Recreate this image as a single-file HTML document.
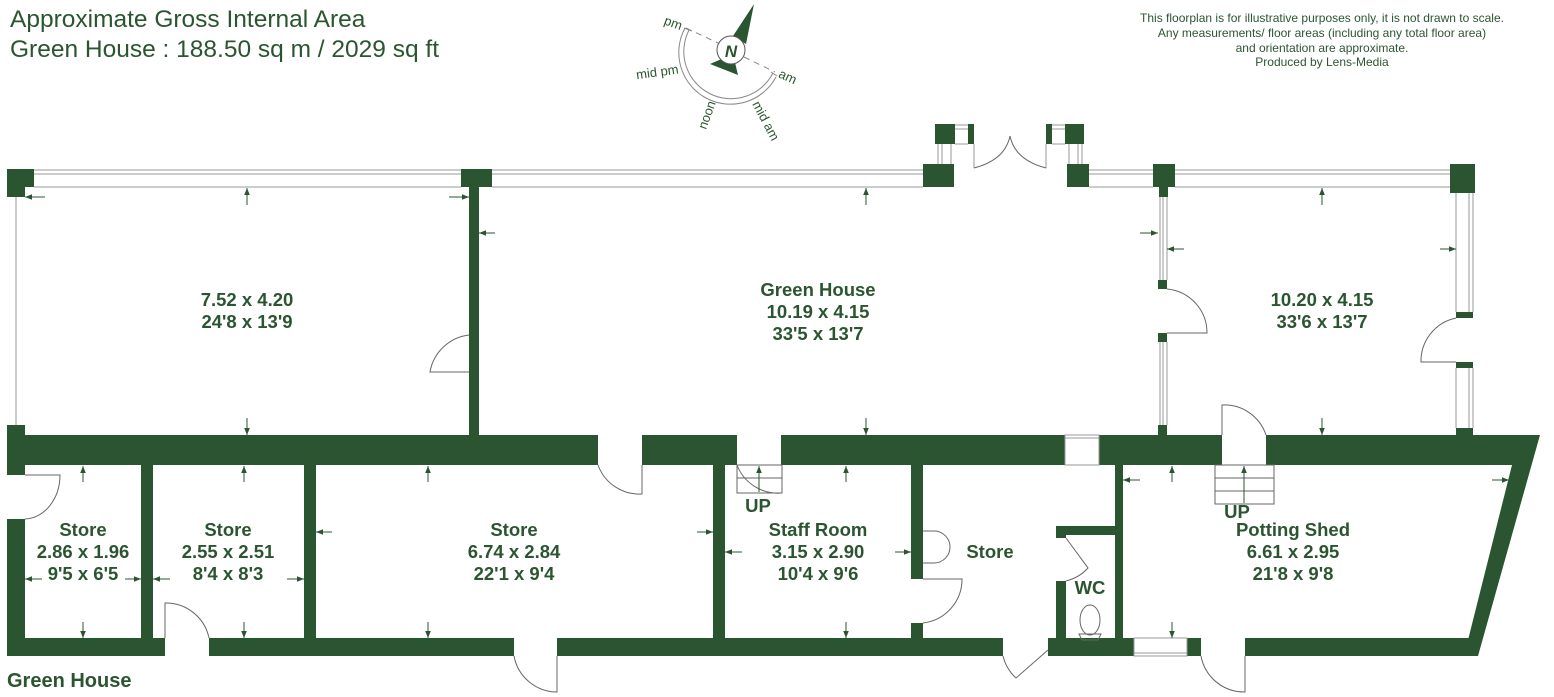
<!DOCTYPE html>
<html><head><meta charset="utf-8"><style>
html,body{margin:0;padding:0;background:#fff;}
svg{display:block;}
text{font-family:"Liberation Sans",Arial,sans-serif;fill:#2b5530;}
.b{font-weight:bold;font-size:18.5px;text-anchor:middle;}
</style></head><body>
<svg width="1554" height="697" viewBox="0 0 1554 697" xmlns="http://www.w3.org/2000/svg">
<defs>
<marker id="ah" viewBox="0 0 10 10" refX="10" refY="5" markerWidth="7" markerHeight="7" orient="auto-start-reverse"><path d="M0,1 L10,5 L0,9 z" fill="#2b5530"/></marker>
</defs>
<text x="10" y="27" font-size="24.5">Approximate Gross Internal Area</text>
<text x="10" y="57" font-size="24.5">Green House : 188.50 sq m / 2029 sq ft</text>
<g font-size="12" text-anchor="middle">
<text x="1322" y="22">This floorplan is for illustrative purposes only, it is not drawn to scale.</text>
<text x="1322" y="37">Any measurements/ floor areas (including any total floor area)</text>
<text x="1322" y="52">and orientation are approximate.</text>
<text x="1322" y="66">Produced by Lens-Media</text>
</g>
<!-- compass -->
<g stroke="#888" fill="none" stroke-width="1">
<path d="M689,30 A46,46 0 0 0 773,73"/>
<path d="M685,28 A51,51 0 0 0 776,77"/>
<line x1="684" y1="28" x2="692" y2="31"/><line x1="771" y1="72" x2="777" y2="76"/>
<line x1="686" y1="28" x2="718" y2="43" stroke-dasharray="6,5"/>
<line x1="744" y1="57" x2="775" y2="72" stroke-dasharray="6,5"/>
</g>
<polygon points="754,4 733,36 746,44" fill="#2b5530"/>
<polygon points="710,64 738,75 733,54" fill="#2b5530"/>
<circle cx="731" cy="50" r="14" fill="#fff" stroke="#555" stroke-width="1"/>
<text x="731" y="57" font-size="17" font-weight="bold" font-style="italic" text-anchor="middle">N</text>
<g font-size="13">
<text x="664" y="28" transform="rotate(20 675 24)">pm</text>
<text x="636" y="76" transform="rotate(-8 660 72)">mid pm</text>
<text x="778" y="80" transform="rotate(25 785 78)">am</text>
<text x="0" y="0" transform="translate(706,130) rotate(-70)">noon</text>
<text x="0" y="0" transform="translate(752,104) rotate(62)">mid am</text>
</g>

<g fill="#2b5530">
<path d="M7,169 H34 V187 H25 V197 H7 Z"/>
<path d="M461,169 H492 V187 H479 V435 H469 V187 H461 Z" />
<rect x="923" y="164" width="31" height="23"/>
<rect x="935" y="124" width="20" height="20"/>
<rect x="968" y="124" width="6" height="20"/>
<rect x="1046" y="124" width="6" height="20"/>
<rect x="1065" y="124" width="19" height="20"/>
<rect x="1067" y="164" width="22" height="23"/>
<path d="M1153,164 H1175 V187 H1168 V197 H1159 V187 H1153 Z"/>
<path d="M1450,164 H1475 V193 H1450 Z"/>
<rect x="1158" y="280" width="9" height="9"/>
<rect x="1158" y="333" width="9" height="9"/>
<rect x="1158" y="425" width="9" height="10"/>
<rect x="1456" y="312" width="17" height="6"/>
<rect x="1456" y="362" width="17" height="6"/>
<rect x="1456" y="428" width="17" height="7"/>
<rect x="7" y="425" width="18" height="50"/>
<rect x="7" y="435" width="591" height="30"/>
<rect x="642" y="435" width="95" height="30"/>
<rect x="781" y="435" width="284" height="30"/>
<rect x="1099" y="435" width="123" height="30"/>
<path d="M1266,435 H1540 L1478,656 H1464 L1512,465 H1266 Z"/>
<rect x="7" y="519" width="18" height="137"/>
<rect x="7" y="638" width="158" height="18"/>
<rect x="209" y="638" width="305" height="18"/>
<rect x="557" y="638" width="446" height="18"/>
<rect x="1048" y="638" width="86" height="18"/>
<rect x="1187" y="638" width="14" height="18"/>
<rect x="1245" y="638" width="233" height="18"/>
<rect x="141" y="465" width="12" height="173"/>
<rect x="304" y="465" width="12" height="173"/>
<rect x="713" y="465" width="12" height="173"/>
<rect x="911" y="465" width="12" height="114"/>
<rect x="911" y="623" width="12" height="15"/>
<rect x="1115" y="465" width="8" height="173"/>
<rect x="1056" y="526" width="59" height="9"/>
<rect x="1056" y="526" width="10" height="12"/>
<rect x="1056" y="581" width="10" height="57"/>
</g>

<g stroke="#999" fill="none" stroke-width="1">
<line x1="34" y1="170" x2="461" y2="170"/><line x1="34" y1="174" x2="461" y2="174"/><line x1="34" y1="187" x2="461" y2="187"/>
<line x1="492" y1="170" x2="923" y2="170"/><line x1="492" y1="174" x2="923" y2="174"/><line x1="492" y1="187" x2="923" y2="187"/>
<line x1="1089" y1="170" x2="1153" y2="170"/><line x1="1089" y1="174" x2="1153" y2="174"/><line x1="1089" y1="187" x2="1153" y2="187"/>
<line x1="1175" y1="170" x2="1450" y2="170"/><line x1="1175" y1="174" x2="1450" y2="174"/><line x1="1175" y1="187" x2="1450" y2="187"/>
<line x1="16" y1="197" x2="16" y2="425"/>
<line x1="938" y1="144" x2="938" y2="164"/><line x1="942" y1="144" x2="942" y2="164"/><line x1="951" y1="144" x2="951" y2="164"/>
<line x1="1069" y1="144" x2="1069" y2="164"/><line x1="1078" y1="144" x2="1078" y2="164"/><line x1="1082" y1="144" x2="1082" y2="164"/>
<line x1="955" y1="125" x2="968" y2="125"/><line x1="955" y1="129" x2="968" y2="129"/><line x1="955" y1="144" x2="968" y2="144"/>
<line x1="1052" y1="125" x2="1065" y2="125"/><line x1="1052" y1="129" x2="1065" y2="129"/><line x1="1052" y1="144" x2="1065" y2="144"/>
<line x1="974" y1="144" x2="974" y2="168"/><line x1="1046" y1="144" x2="1046" y2="168"/>
<line x1="1160" y1="197" x2="1160" y2="280"/><line x1="1163" y1="197" x2="1163" y2="280"/><line x1="1167" y1="197" x2="1167" y2="280"/>
<line x1="1160" y1="342" x2="1160" y2="425"/><line x1="1163" y1="342" x2="1163" y2="425"/><line x1="1167" y1="342" x2="1167" y2="425"/>
<line x1="1456" y1="193" x2="1456" y2="312"/><line x1="1469" y1="193" x2="1469" y2="312"/><line x1="1473" y1="193" x2="1473" y2="312"/>
<line x1="1456" y1="368" x2="1456" y2="428"/><line x1="1469" y1="368" x2="1469" y2="428"/><line x1="1473" y1="368" x2="1473" y2="428"/>
<rect x="1065" y="435" width="34" height="30"/><line x1="1065" y1="438" x2="1099" y2="438"/>
<rect x="1134" y="638" width="53" height="18"/><line x1="1134" y1="653" x2="1187" y2="653"/>
</g>

<g stroke="#666" fill="none" stroke-width="1">
<path d="M974,168 Q1005,160 1010,136"/><path d="M1046,168 Q1015,160 1010,136"/>
<path d="M469,335 A45,45 0 0 0 430,372 H469"/>
<path d="M1167,289 A44,44 0 0 1 1207,333 H1167"/>
<path d="M1456,318 A44,44 0 0 0 1421,362 H1456"/>
<path d="M1222,435 V405 A44,44 0 0 1 1266,435"/>
<path d="M598,465 A44,44 0 0 0 642,494 V465"/>
<path d="M737,465 A44,44 0 0 0 782,493"/>
<rect x="737" y="465" width="45" height="28"/><line x1="737" y1="478" x2="782" y2="478"/>
<rect x="1215" y="465" width="59" height="39"/><line x1="1215" y1="478" x2="1274" y2="478"/><line x1="1215" y1="491" x2="1274" y2="491"/>
<path d="M25,475 H60 A36,44 0 0 1 25,519"/>
<path d="M165,638 V603 A44,44 0 0 1 209,638"/>
<path d="M514,656 A44,44 0 0 0 557,692 V656"/>
<path d="M923,579 H962 A44,44 0 0 1 923,623"/>
<path d="M1003,656 A44,44 0 0 0 1016,678 L1048,650"/>
<path d="M1066,538 L1088,568 A44,44 0 0 1 1066,581"/>
<path d="M1201,656 A44,44 0 0 0 1245,692 V656"/>
<path d="M923,531 H934 A16,16 0 0 1 934,563 H923"/>
<ellipse cx="1090" cy="620" rx="10" ry="15"/>
<path d="M1079,634 H1101 L1098,640 H1082 Z"/>
</g>

<g stroke="#2b5530" stroke-width="1" marker-end="url(#ah)">
<line x1="247" y1="205" x2="247" y2="188"/><line x1="247" y1="418" x2="247" y2="435"/>
<line x1="45" y1="197" x2="25" y2="197"/><line x1="449" y1="197" x2="469" y2="197"/><line x1="495" y1="233" x2="479" y2="233"/>
<line x1="866" y1="205" x2="866" y2="188"/><line x1="866" y1="418" x2="866" y2="435"/>
<line x1="1140" y1="233" x2="1158" y2="233"/><line x1="1184" y1="249" x2="1167" y2="249"/><line x1="1440" y1="249" x2="1456" y2="249"/>
<line x1="1322" y1="205" x2="1322" y2="188"/><line x1="1322" y1="418" x2="1322" y2="435"/>
<line x1="83" y1="482" x2="83" y2="466"/><line x1="83" y1="622" x2="83" y2="638"/>
<line x1="42" y1="579" x2="25" y2="579"/><line x1="125" y1="579" x2="141" y2="579"/>
<line x1="170" y1="579" x2="153" y2="579"/><line x1="287" y1="579" x2="304" y2="579"/>
<line x1="244" y1="482" x2="244" y2="466"/><line x1="244" y1="622" x2="244" y2="638"/>
<line x1="428" y1="482" x2="428" y2="466"/><line x1="428" y1="622" x2="428" y2="638"/>
<line x1="332" y1="532" x2="316" y2="532"/><line x1="697" y1="532" x2="713" y2="532"/>
<line x1="742" y1="552" x2="725" y2="552"/><line x1="895" y1="552" x2="911" y2="552"/>
<line x1="846" y1="482" x2="846" y2="466"/><line x1="846" y1="622" x2="846" y2="638"/>
<line x1="759" y1="492" x2="759" y2="466"/><line x1="1244" y1="503" x2="1244" y2="466"/>
<line x1="1172" y1="482" x2="1172" y2="466"/><line x1="1172" y1="622" x2="1172" y2="638"/>
<line x1="1140" y1="480" x2="1123" y2="480"/><line x1="1492" y1="480" x2="1509" y2="480"/>
</g>

<text class="b" x="247" y="306">7.52 x 4.20</text>
<text class="b" x="247" y="328">24'8 x 13'9</text>
<text class="b" x="818" y="296">Green House</text>
<text class="b" x="818" y="318">10.19 x 4.15</text>
<text class="b" x="818" y="340">33'5 x 13'7</text>
<text class="b" x="1322" y="306">10.20 x 4.15</text>
<text class="b" x="1322" y="328">33'6 x 13'7</text>
<text class="b" x="83" y="536">Store</text><text class="b" x="83" y="558">2.86 x 1.96</text><text class="b" x="83" y="580">9'5 x 6'5</text>
<text class="b" x="228" y="536">Store</text><text class="b" x="228" y="558">2.55 x 2.51</text><text class="b" x="228" y="580">8'4 x 8'3</text>
<text class="b" x="514" y="536">Store</text><text class="b" x="514" y="558">6.74 x 2.84</text><text class="b" x="514" y="580">22'1 x 9'4</text>
<text class="b" x="818" y="536">Staff Room</text><text class="b" x="818" y="558">3.15 x 2.90</text><text class="b" x="818" y="580">10'4 x 9'6</text>
<text class="b" x="990" y="558">Store</text>
<text class="b" x="1090" y="594">WC</text>
<text class="b" x="758" y="512">UP</text>
<text class="b" x="1237" y="518">UP</text>
<text class="b" x="1293" y="536">Potting Shed</text><text class="b" x="1293" y="558">6.61 x 2.95</text><text class="b" x="1293" y="580">21'8 x 9'8</text>
<text x="7" y="687" font-size="20" font-weight="bold">Green House</text>
</svg>
</body></html>
